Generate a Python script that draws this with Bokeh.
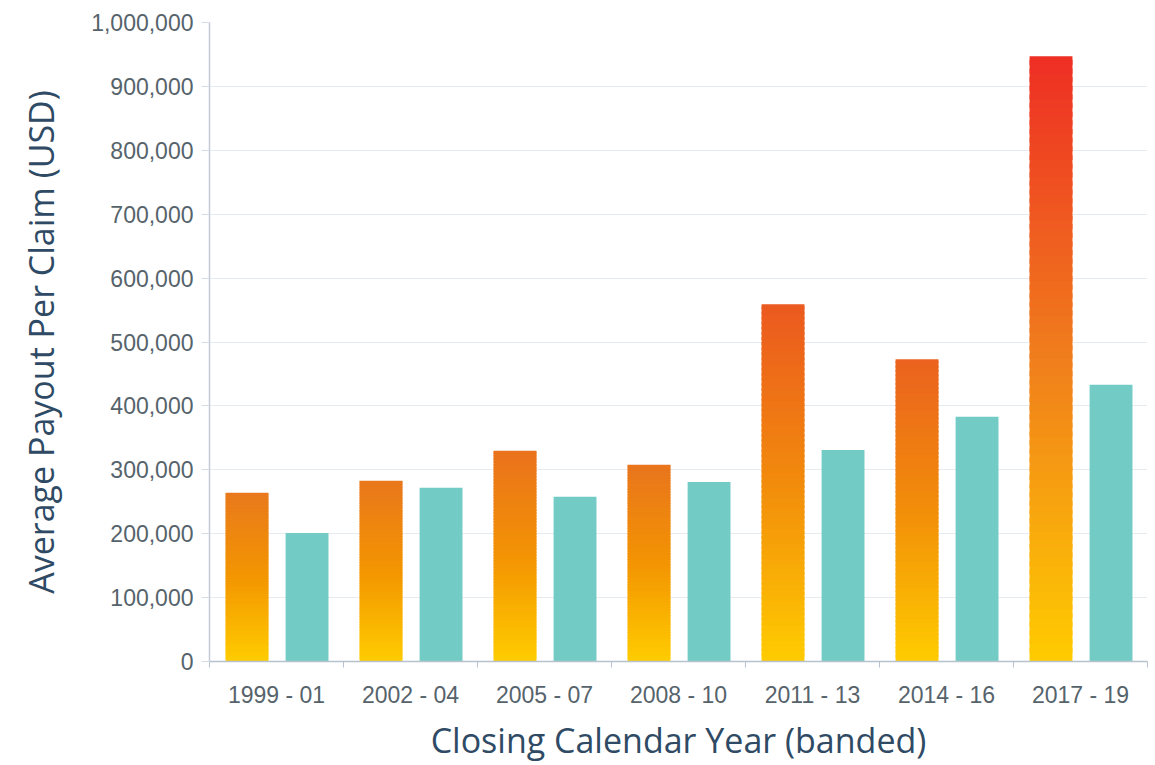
from bokeh.plotting import figure
from bokeh.models import ColumnDataSource, Range1d, FixedTicker, NumeralTickFormatter, SingleIntervalTicker
from bokeh.embed import file_html
from bokeh.resources import INLINE

categories = ["1999 - 01", "2002 - 04", "2005 - 07", "2008 - 10", "2011 - 13", "2014 - 16", "2017 - 19"]
series_a = [264000, 283000, 330000, 308000, 559000, 473000, 947000]
series_b = [201000, 272000, 258000, 281000, 331000, 383000, 433000]

def hex2rgb(h):
    h = h.lstrip("#")
    return tuple(int(h[i:i+2], 16) for i in (0, 2, 4))

def mix(c1, c2, t):
    a, b = hex2rgb(c1), hex2rgb(c2)
    return "#%02x%02x%02x" % tuple(round(a[i] + (b[i] - a[i]) * t) for i in range(3))

YELLOW = "#FFCC00"
MID_LO, MID_HI = "#F39600", "#F07E1C"
TOP_LO, TOP_HI = "#E97B1C", "#EE2E24"

def grad_color(v, f):
    t = min(max((v - 250000) / (950000 - 250000), 0), 1)
    mid = mix(MID_LO, MID_HI, t)
    top = mix(TOP_LO, TOP_HI, t)
    if f < 0.5:
        return mix(YELLOW, mid, f / 0.5)
    return mix(mid, top, (f - 0.5) / 0.5)

N = 70
xs, bots, tops, cols = [], [], [], []
for i, v in enumerate(series_a):
    for k in range(N):
        xs.append(i + 0.5 - 0.22)
        bots.append(v * k / N)
        tops.append(v * min(k + 1.6, N) / N)
        cols.append(grad_color(v, (k + 0.5) / N))
src_a = ColumnDataSource(dict(x=xs, bottom=bots, top=tops, color=cols))
src_b = ColumnDataSource(dict(x=[i + 0.5 + 0.228 for i in range(len(categories))], top=series_b))

p = figure(width=1150, height=765, x_range=Range1d(0, len(categories)), y_range=Range1d(0, 1000000),
           output_backend="svg", toolbar_location=None,
           min_border_left=209, min_border_right=3, min_border_top=22, min_border_bottom=103)
p.outline_line_color = None
p.background_fill_color = "white"

p.vbar(x="x", bottom="bottom", top="top", width=0.32, fill_color="color", line_color=None, source=src_a)
p.vbar(x="x", bottom=0, top="top", width=0.32, fill_color="#72CBC4", line_color=None, source=src_b)

# x axis
xa = p.xaxis[0]
xa.ticker = FixedTicker(ticks=[i + 0.5 for i in range(len(categories))],
                        minor_ticks=list(range(len(categories) + 1)))
xa.major_label_overrides = {i + 0.5: c for i, c in enumerate(categories)}
xa.major_tick_out = 0
xa.major_tick_in = 0
xa.minor_tick_out = 6
xa.minor_tick_in = 0
xa.minor_tick_line_color = "#B8C2CC"
xa.axis_line_color = "#B8C2CC"
xa.axis_line_width = 1.5
xa.major_label_text_font = "Liberation Sans"
xa.major_label_text_font_size = "23px"
xa.major_label_text_color = "#56636B"
xa.major_label_standoff = 14
xa.axis_label = "Closing Calendar Year (banded)"
xa.axis_label_text_font = "Open Sans"
xa.axis_label_text_font_style = "normal"
xa.axis_label_text_font_size = "34px"
xa.axis_label_text_color = "#2F4A64"
xa.axis_label_standoff = 6

# y axis
ya = p.yaxis[0]
ya.ticker = SingleIntervalTicker(interval=100000, num_minor_ticks=0)
ya.formatter = NumeralTickFormatter(format="0,0")
ya.major_tick_out = 8
ya.major_tick_in = 0
ya.minor_tick_out = 0
ya.minor_tick_in = 0
ya.major_tick_line_color = "#D3DBE3"
ya.axis_line_color = "#C3CCD6"
ya.axis_line_width = 1.5
ya.major_label_text_font = "Liberation Sans"
ya.major_label_text_font_size = "23px"
ya.major_label_text_color = "#56636B"
ya.major_label_standoff = 8
ya.axis_label = "Average Payout Per Claim (USD)"
ya.axis_label_text_font = "Open Sans"
ya.axis_label_text_font_style = "normal"
ya.axis_label_text_font_size = "34px"
ya.axis_label_text_color = "#2F4A64"
ya.axis_label_standoff = 24

p.xgrid.grid_line_color = None
p.ygrid.ticker = SingleIntervalTicker(interval=100000, num_minor_ticks=0)
p.ygrid.grid_line_color = "#E6EBF0"
p.ygrid.grid_line_width = 1

open("out.html", "w").write(file_html(p, INLINE))
